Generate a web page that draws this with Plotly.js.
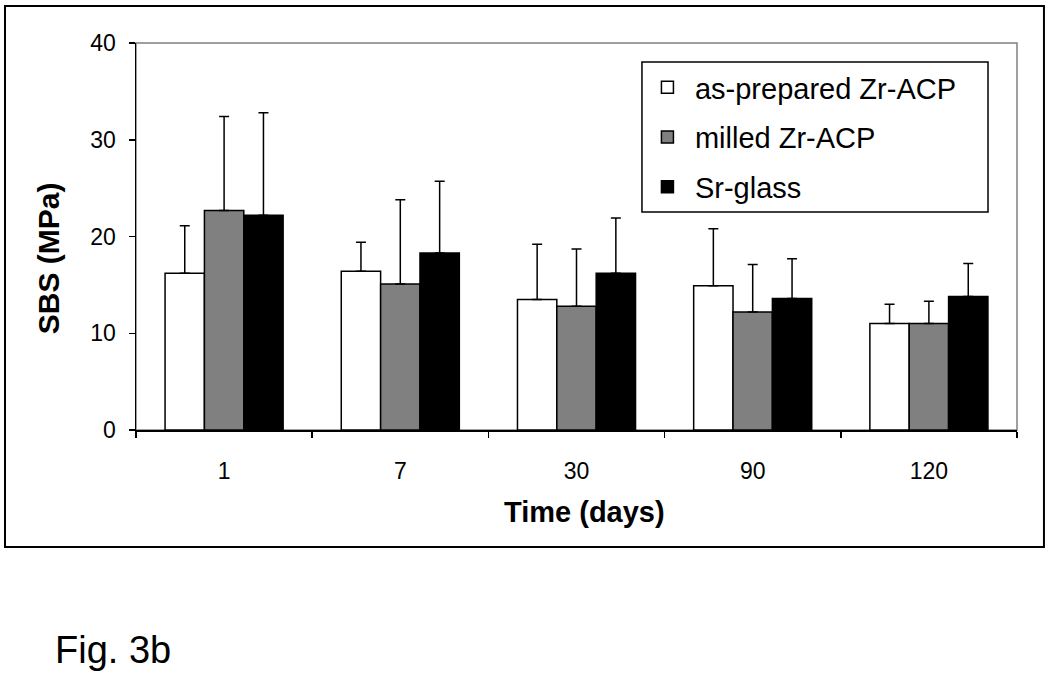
<!DOCTYPE html>
<html>
<head>
<meta charset="utf-8">
<script src="https://cdn.plot.ly/plotly-3.0.1.min.js"></script>
<style>
  body { margin: 0; background: #fff; }
  #chart { width: 1050px; height: 683px; }
</style>
</head>
<body>
<div id="chart"></div>
<script>
var days = ["1", "7", "30", "90", "120"];

var asPrepared = [16.2, 16.4, 13.5, 14.9, 11.0];
var asPreparedSD = [4.9, 3.0, 5.7, 5.9, 2.0];

var milled = [22.7, 15.1, 12.8, 12.2, 11.0];
var milledSD = [9.7, 8.7, 5.9, 4.9, 2.3];

var srGlass = [22.2, 18.3, 16.2, 13.6, 13.8];
var srGlassSD = [10.6, 7.4, 5.7, 4.1, 3.4];

var zeros = [0, 0, 0, 0, 0];

function barTrace(name, y, sd, fill, group) {
    return {
        x: days,
        y: y,
        name: name,
        type: "bar",
        legendgroup: group,
        marker: {
            color: fill,
            line: { color: "#000", width: 1.5 }
        },
        error_y: {
            type: "data",
            symmetric: false,
            array: sd,
            arrayminus: zeros,
            color: "#000",
            thickness: 1.5,
            width: 5
        }
    };
}

var data = [
    barTrace("as-prepared Zr-ACP", asPrepared, asPreparedSD, "#ffffff", "a"),
    barTrace("milled Zr-ACP", milled, milledSD, "#808080", "b"),
    barTrace("Sr-glass", srGlass, srGlassSD, "#000000", "c")
];

var layout = {
    width: 1050,
    height: 683,
    margin: { l: 136, r: 33, t: 43, b: 253 },
    paper_bgcolor: "#fff",
    plot_bgcolor: "#fff",
    font: { family: "Liberation Sans, Arial, sans-serif", color: "#000", size: 23 },
    barmode: "group",
    bargap: 0.33,
    bargroupgap: 0,
    showlegend: true,
    legend: {
        x: 0.572,
        y: 0.951,
        xanchor: "left",
        yanchor: "top",
        bgcolor: "rgba(0,0,0,0)",
        borderwidth: 0,
        font: { size: 29 },
        tracegroupgap: 9,
        itemwidth: 45
    },
    xaxis: {
        type: "category",
        showline: true,
        linecolor: "#000",
        linewidth: 1.5,
        ticks: "outside",
        tickson: "boundaries",
        ticklen: 6,
        tickcolor: "#000",
        tickwidth: 1.5,
        ticklabelstandoff: 20,
        showgrid: false,
        zeroline: false
    },
    yaxis: {
        range: [0, 40],
        dtick: 10,
        showline: true,
        linecolor: "#000",
        linewidth: 1.5,
        ticks: "outside",
        ticklen: 6,
        tickcolor: "#000",
        tickwidth: 1.5,
        ticklabelstandoff: 8,
        showgrid: false,
        zeroline: false
    },
    shapes: [
        // grey plot-area border (top and right show)
        {
            type: "rect", xref: "paper", yref: "paper",
            x0: 0, x1: 1, y0: 0, y1: 1,
            line: { color: "#808080", width: 1.5 },
            layer: "below"
        },
        // legend frame
        {
            type: "rect", xref: "paper", yref: "paper",
            x0: 0.5743, x1: 0.9671, y0: 0.5633, y1: 0.9509,
            line: { color: "#000", width: 1.5 }
        },
        // outer figure frame
        {
            type: "rect", xref: "paper", yref: "paper",
            x0: -0.1487, x1: 1.0306, y0: -0.3023, y1: 1.0956,
            line: { color: "#000", width: 2 }
        }
    ],
    annotations: [
        {
            text: "<b>Time (days)</b>",
            xref: "paper", yref: "paper",
            x: 0.5095, y: -0.2119,
            xanchor: "center", yanchor: "middle",
            showarrow: false,
            font: { size: 29 }
        },
        {
            text: "<b>SBS (MPa)</b>",
            xref: "paper", yref: "paper",
            x: -0.0999, y: 0.444,
            xanchor: "center", yanchor: "middle",
            textangle: -90,
            showarrow: false,
            font: { size: 30 }
        },
        {
            text: "Fig. 3b",
            xref: "paper", yref: "paper",
            x: -0.0942, y: -0.568,
            xanchor: "left", yanchor: "middle",
            showarrow: false,
            font: { size: 38 }
        }
    ]
};

Plotly.newPlot("chart", data, layout, { displayModeBar: false, staticPlot: true });
</script>
</body>
</html>
